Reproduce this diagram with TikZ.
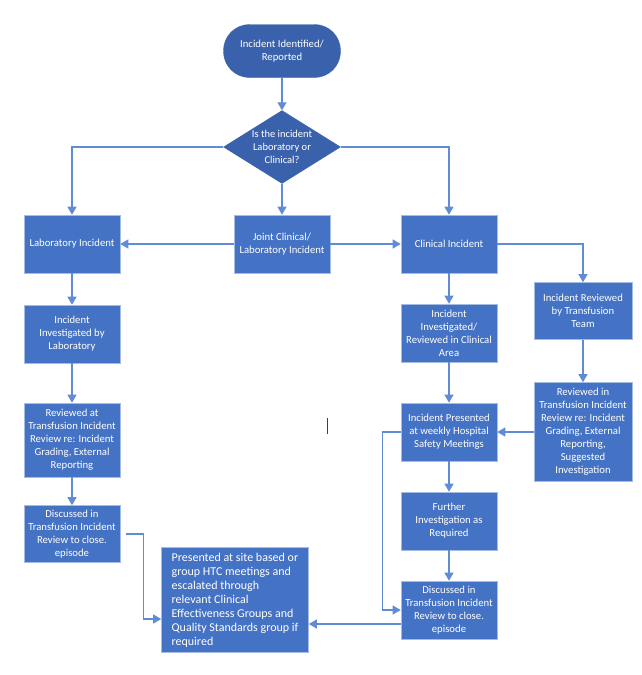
\documentclass[tikz,border=0pt]{standalone}
\usepackage{fontspec}
\setmainfont{Carlito}
\usepackage{tikz}
\usetikzlibrary{arrows.meta,shapes,positioning,calc}
\definecolor{boxblue}{RGB}{68,114,196}
\definecolor{darkblue}{RGB}{58,98,172}
\definecolor{edgeblue}{RGB}{165,188,226}
\definecolor{lineblue}{RGB}{96,140,214}
\tikzstyle{box}=[rectangle, draw=edgeblue, line width=0.6pt, fill=boxblue, text=white, align=center, inner sep=2pt, minimum width=96pt, minimum height=58pt, font=\fontsize{10.7}{13}\selectfont]
\tikzstyle{term}=[rectangle, rounded corners=26pt, fill=darkblue, draw=darkblue, text=white, align=center, minimum width=117pt, minimum height=53pt, font=\fontsize{10.7}{13.5}\selectfont]
\tikzstyle{dec}=[diamond, fill=darkblue, draw=darkblue, inner sep=0pt, minimum width=117pt, minimum height=73pt]
\tikzstyle{arr}=[draw=lineblue, line width=1.2pt, -{Triangle[width=9pt,length=8pt]}]

\begin{document}
\begin{tikzpicture}[x=1pt,y=-1pt]
\useasboundingbox (0,0) rectangle (642,675);
		\node[term] (A)at(282,51){Incident Identified/\\Reported};
		\node[dec, label={[text=white, align=center, font=\fontsize{10.5}{13.3}\selectfont]center:Is the incident\\Laboratory or\\Clinical?}] (B)at(282,147){};
		\node[box] (C)at(72,244){Laboratory Incident};
		\node[box] (D)at(282,244){Joint Clinical/\\Laboratory Incident};
		\node[box] (E)at(449,244){Clinical Incident};
		\node[box] (F)at(72,334){Incident\\Investigated by\\Laboratory};
		\node[box, minimum height=74pt] (G)at(72,440){Reviewed at\\Transfusion Incident\\Review re: Incident\\Grading, External\\Reporting};
		\node[box, minimum height=57pt] (H)at(72,534){Discussed in\\Transfusion Incident\\Review to close.\\episode};
		\node[box] (I)at(449,333){Incident\\Investigated/\\Reviewed in Clinical\\Area};
		\node[box] (J)at(449,432){Incident Presented\\at weekly Hospital\\Safety Meetings};
		\node[box] (K)at(449,521){Further\\Investigation as\\Required};
		\node[box] (L)at(449,610){Discussed in\\Transfusion Incident\\Review to close.\\episode};
		\node[box, minimum width=98pt, minimum height=57pt] (M)at(583,311){Incident Reviewed\\by Transfusion\\Team};
		\node[box, minimum width=98pt, minimum height=99pt] (N)at(583,432){Reviewed in\\Transfusion Incident\\Review re: Incident\\Grading, External\\Reporting,\\Suggested\\Investigation};
		\node[box, minimum width=147pt, minimum height=105pt, align=left, font=\fontsize{12}{14}\selectfont] (O)at(235,600){Presented at site based or\\group HTC meetings and\\escalated through\\relevant Clinical\\Effectiveness Groups and\\Quality Standards group if\\required};
		\coordinate (Q) at ([yshift=-14pt]L.west);

	\draw[arr](A)--(B);
	\draw[arr](B.west)-|(C.north);
	\draw[arr](B.east)-|(E.north);
	\draw[arr](B.south)--(D.north);
	\draw[arr](D)--(C);
	\draw[arr](D)--(E);
	\draw[arr](E.east)-|(M.north);
	\draw[arr](C)--(F);
	\draw[arr](F)--(G);
	\draw[arr](G)--(H);
	\draw[arr](E)--(I);
	\draw[arr](I)--(J);
	\draw[arr](J)--(K);
	\draw[arr](K)--(L);
	\draw[arr](M)--(N);
	\draw[arr](N.west)--(J.east);
	\draw[arr](J.west)--++(-18,0)|-(L.west);
	\draw[arr, shorten <=6pt](H.east)--++(23,0)|-([yshift=-19pt]O.west);
	\draw[arr](Q)--(Q-|O.east);
	\draw[black!75, line width=1pt](327,418)--(327,434);
\end{tikzpicture}
\end{document}
